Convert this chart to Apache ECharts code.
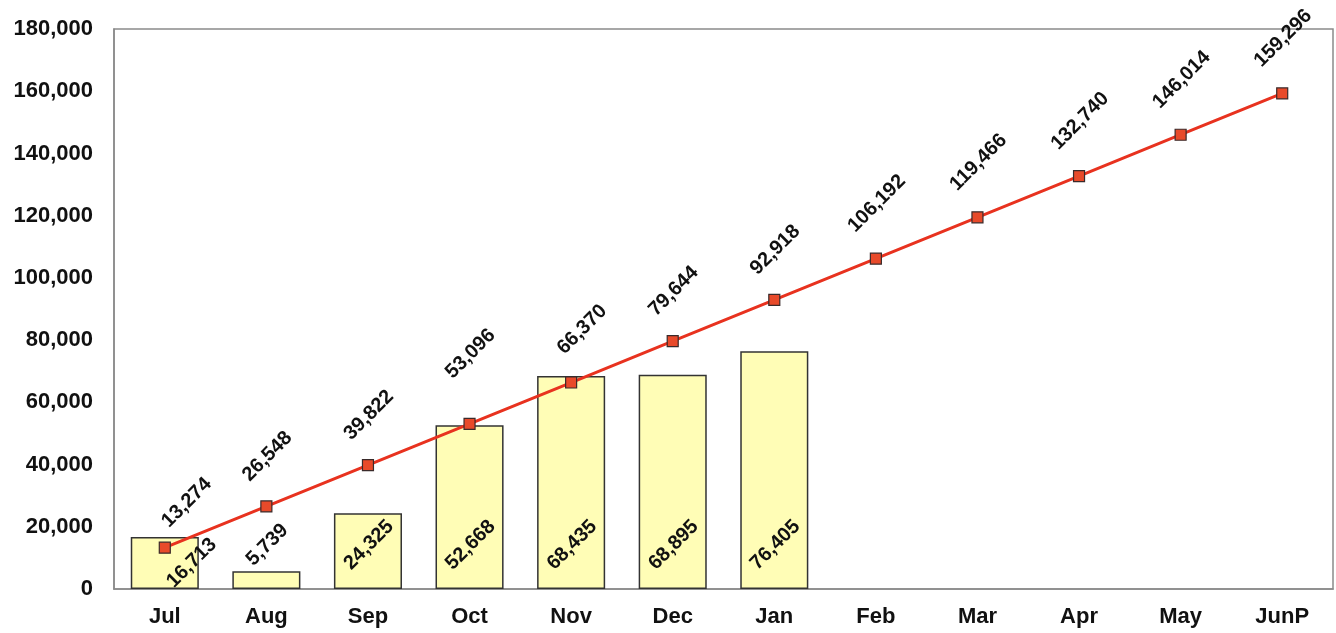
<!DOCTYPE html>
<html>
<head>
<meta charset="utf-8">
<script src="https://cdn.jsdelivr.net/npm/echarts@6/dist/echarts.min.js"></script>
<style>
  html, body { margin: 0; padding: 0; background: #fff; }
  #chart { width: 1336px; height: 633px; }
</style>
</head>
<body>
<div id="chart"></div>
<script>
// Months of the fiscal year
const months = ['Jul', 'Aug', 'Sep', 'Oct', 'Nov', 'Dec', 'Jan', 'Feb', 'Mar', 'Apr', 'May', 'JunP'];
// Actual monthly totals (bars)
const actual = [16713, 5739, 24325, 52668, 68435, 68895, 76405];
// Planned cumulative target (line)
const target = [13274, 26548, 39822, 53096, 66370, 79644, 92918, 106192, 119466, 132740, 146014, 159296];
// Y axis range
const yMin = 0, yMax = 180000, yStep = 20000;

const fmt = v => v.toLocaleString('en-US');
const FONT = '"Liberation Sans", Arial, sans-serif';

// Label offsets are applied in the label's rotated (45°) frame;
// convert a wanted on-screen shift into that frame.
const rotOff = (sx, sy) => [(sx - sy) * Math.SQRT1_2, (sx + sy) * Math.SQRT1_2];

// On-screen shift of each bar label centre from the bar base
const barLabelShift = i => (i === 0 ? [27, -26] : [1, -44]);
const barData = actual.map((v, i) => ({
  value: v,
  label: { offset: rotOff(...barLabelShift(i)) }
}));

// On-screen shift of each line label centre from its marker
const lineLabelShift = (v, i) => {
  if (i === 0) return [22, -45];
  if (i === 3) return [1, -70];
  if (i === 4) return [11, -53];
  const len = fmt(v).length;
  return [1, len > 6 ? -55 : -50];
};
const lineData = target.map((v, i) => ({
  value: v,
  label: { offset: rotOff(...lineLabelShift(v, i)) }
}));

const chart = echarts.init(document.getElementById('chart'));
chart.setOption({
  animation: false,
  backgroundColor: '#ffffff',
  grid: {
    left: 114, right: 3, top: 29, bottom: 44,
    show: true, borderColor: '#8a8a8a', borderWidth: 1.5, backgroundColor: 'transparent'
  },
  xAxis: {
    type: 'category',
    data: months,
    axisLine: { lineStyle: { color: '#8a8a8a', width: 1.5 } },
    axisTick: { show: false },
    axisLabel: { color: '#111', fontFamily: FONT, fontWeight: 'bold', fontSize: 22, margin: 17 }
  },
  yAxis: {
    type: 'value',
    min: yMin, max: yMax, interval: yStep,
    splitLine: { show: false },
    axisLine: { show: true, lineStyle: { color: '#8a8a8a', width: 1.5 } },
    axisTick: { show: false },
    axisLabel: {
      color: '#111', fontFamily: FONT, fontWeight: 'bold', fontSize: 22, margin: 21,
      formatter: v => fmt(v)
    }
  },
  series: [
    {
      type: 'bar',
      data: barData,
      barWidth: '67%',
      itemStyle: { color: '#fffdb6', borderColor: '#333', borderWidth: 1.5 },
      label: {
        show: true,
        position: 'insideBottom',
        distance: 0,
        rotate: 45,
        align: 'center',
        verticalAlign: 'middle',
        color: '#111', fontFamily: FONT, fontWeight: 'bold', fontSize: 20,
        formatter: p => fmt(p.value)
      },
      z: 1
    },
    {
      type: 'line',
      data: lineData,
      symbol: 'rect',
      symbolSize: 11,
      lineStyle: { color: '#e8321f', width: 3 },
      itemStyle: { color: '#e84a2a', borderColor: '#3a2a2a', borderWidth: 1.2 },
      label: {
        show: true,
        position: 'inside',
        rotate: 45,
        align: 'center',
        verticalAlign: 'middle',
        color: '#111', fontFamily: FONT, fontWeight: 'bold', fontSize: 20,
        formatter: p => fmt(p.value)
      },
      z: 3
    }
  ]
});
</script>
</body>
</html>
